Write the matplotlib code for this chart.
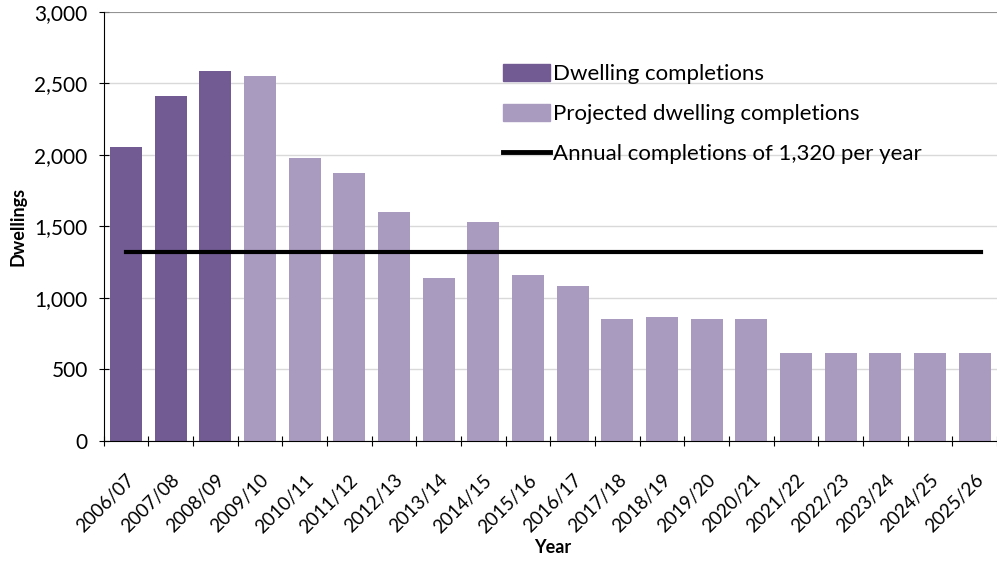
import numpy as np
import matplotlib.pyplot as plt
import matplotlib.transforms as mtransforms
from matplotlib.patches import Patch
from matplotlib.lines import Line2D

plt.rcParams['font.family'] = ['Lato', 'DejaVu Sans']

years = ['2006/07', '2007/08', '2008/09', '2009/10', '2010/11', '2011/12', '2012/13',
         '2013/14', '2014/15', '2015/16', '2016/17', '2017/18', '2018/19', '2019/20',
         '2020/21', '2021/22', '2022/23', '2023/24', '2024/25', '2025/26']
completions = [2055, 2410, 2585, 2550, 1980, 1875, 1600, 1140, 1530, 1160,
               1085, 855, 865, 855, 855, 615, 615, 615, 615, 615]
n_actual = 3          # first three years are recorded, the rest are projections
annual_target = 1320

dark = '#715B92'
light = '#A99BC0'

fig = plt.figure(figsize=(9.97, 5.61), dpi=100)
ax = fig.add_axes([0.104, 0.214, 0.896, 0.765])

x = np.arange(len(years))
colors = [dark if i < n_actual else light for i in range(len(years))]
ax.bar(x, completions, width=0.72, color=colors, zorder=2)
ax.plot([x[0], x[-1] + 0.15], [annual_target, annual_target], color='black', lw=3, zorder=3)

ax.set_xlim(-0.5, len(years) - 0.5)
ax.set_ylim(0, 3000)
ax.set_yticks(np.arange(0, 3001, 500))
ax.set_yticklabels([f'{v:,}' for v in range(0, 3001, 500)], fontsize=15)
ax.yaxis.grid(True, color='#D9D9D9', lw=1, zorder=0)
ax.set_axisbelow(True)

# ticks sit between the categories, labels under each bar
ax.set_xticks(np.arange(-0.5, len(years), 1.0), minor=False)
ax.set_xticklabels([])
ax.set_xticks(x, minor=True)
ax.set_xticklabels(years, minor=True, rotation=45, ha='right',
                   rotation_mode='anchor', fontsize=13.5)
shift = mtransforms.ScaledTranslation(-15 / 100, 0, fig.dpi_scale_trans)
for lbl in ax.get_xticklabels(minor=True):
    lbl.set_transform(lbl.get_transform() + shift)
ax.tick_params(axis='x', which='minor', length=0, pad=22)
ax.tick_params(axis='x', which='major', length=7, direction='inout')
ax.tick_params(axis='y', length=7, direction='inout', pad=8)

for side in ['top', 'right']:
    ax.spines[side].set_visible(False)
ax.axhline(3000, color='#868686', lw=1.2, zorder=1)

ax.set_ylabel('Dwellings', fontsize=13, fontweight='bold', labelpad=6)
ax.set_xlabel('Year', fontsize=13, fontweight='bold')
ax.xaxis.set_label_coords(0.503, -0.228)

handles = [Patch(color=dark, label='Dwelling completions'),
           Patch(color=light, label='Projected dwelling completions'),
           Line2D([0], [0], color='black', lw=3.5, label='Annual completions of 1,320 per year')]
ax.legend(handles=handles, loc='upper left', bbox_to_anchor=(0.437, 0.90),
          frameon=False, fontsize=16, handlelength=2.1, handleheight=0.8,
          handletextpad=0.15, labelspacing=0.9, borderaxespad=0)

fig.savefig('out.png', dpi=100)
